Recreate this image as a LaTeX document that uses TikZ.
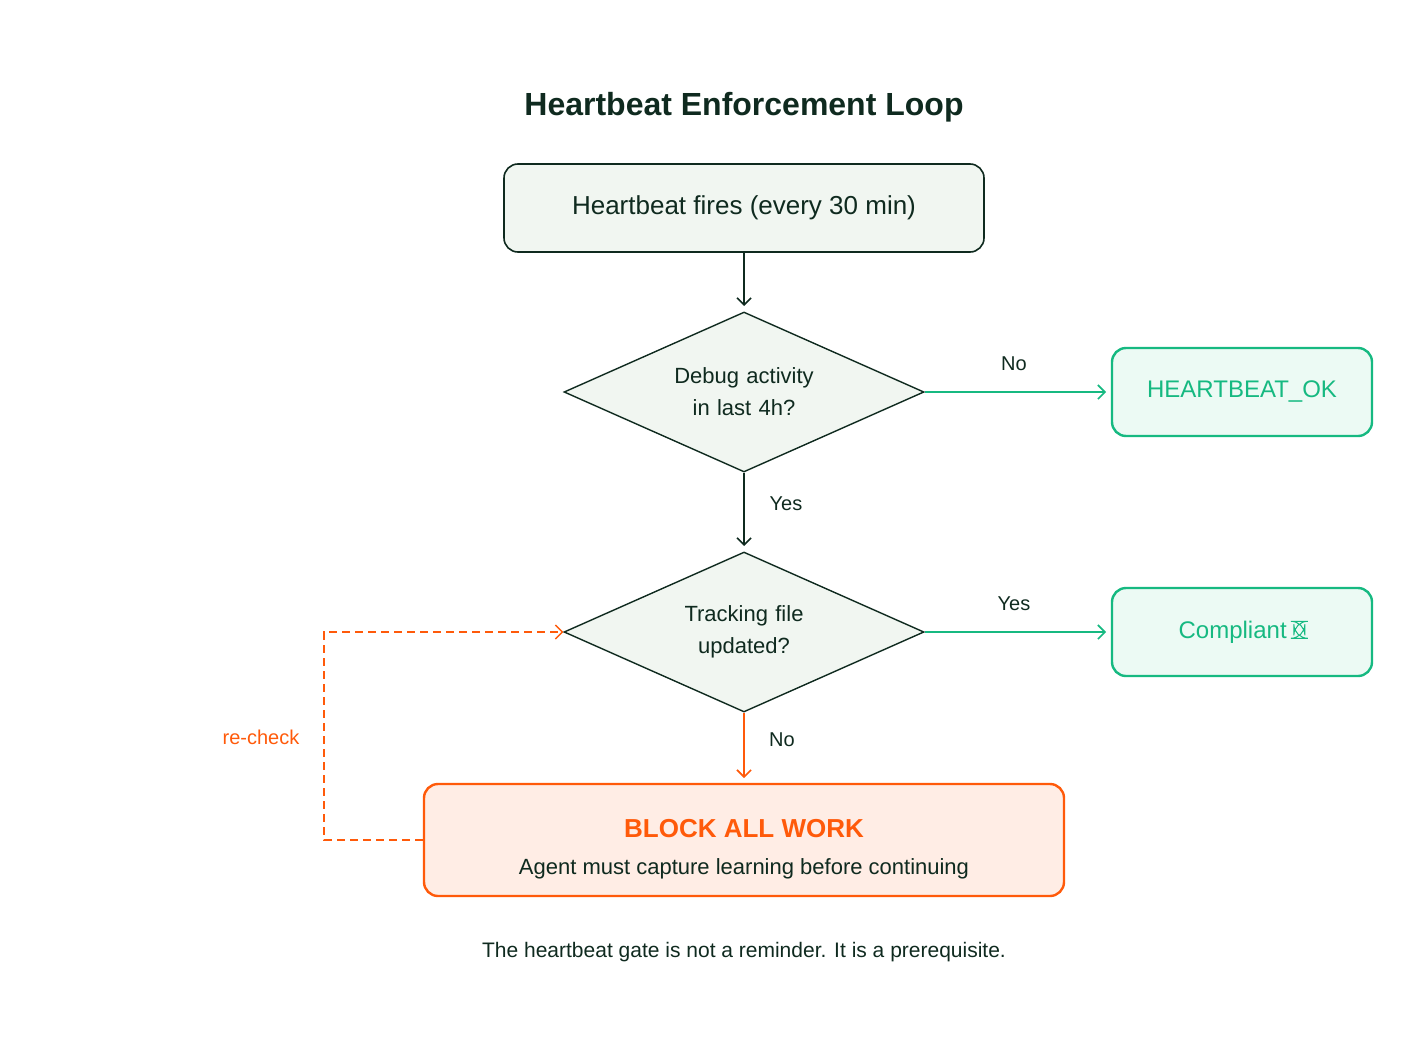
\documentclass[tikz,border=0pt]{standalone}
\usepackage{fontspec}
\setmainfont{Liberation Sans}
\usetikzlibrary{shapes.geometric,arrows.meta}
\definecolor{dk}{HTML}{0F2A1F}
\definecolor{gr}{HTML}{16B981}
\definecolor{grf}{HTML}{ECFAF4}
\definecolor{pale}{HTML}{F1F6F1}
\definecolor{org}{HTML}{FF5A0A}
\definecolor{orgf}{HTML}{FFEDE5}
\begin{document}
\begin{tikzpicture}[x=1pt,y=-1pt,
  box/.style={draw=dk,fill=pale,line width=1.6pt,rounded corners=14pt,inner sep=0pt,text=dk},
  dia/.style={diamond,draw=dk,fill=pale,line width=1.4pt,inner sep=0pt,minimum width=360pt,minimum height=160pt,aspect=2.25,text=dk,font=\fontsize{22}{32}\selectfont,align=center,text width=200pt},
  gbox/.style={draw=gr,fill=grf,line width=2.4pt,rounded corners=14pt,minimum width=260pt,minimum height=88pt,inner sep=0pt,text=gr,font=\fontsize{24}{28}\selectfont},
  arr/.style={line width=2pt,-{Straight Barb[length=7pt,width=14pt,line width=1.6pt]}},
  lbl/.style={font=\fontsize{20}{24}\selectfont,text=dk}]
\useasboundingbox (0,0) rectangle (1424,1052);
\node[font=\bfseries\fontsize{32}{38}\selectfont,text=dk] (title) at (744,107) {Heartbeat Enforcement Loop};
\node[box,minimum width=480pt,minimum height=88pt,font=\fontsize{26}{30}\selectfont] (hb) at (744,208) {Heartbeat fires (every 30 min)};
\node[dia] (d1) at (744,392) {Debug activity\\in last 4h?};
\node[dia] (d2) at (744,632) {Tracking file\\updated?};
\node[gbox] (ok) at (1242,392) {HEARTBEAT\_OK};
\node[gbox] (cp) at (1242,632) {Compliant \tikz[baseline=0pt]\draw[gr,line width=1pt] (0,0) rectangle (11pt,17pt);};
\node[draw=org,fill=orgf,line width=2.4pt,rounded corners=14pt,minimum width=640pt,minimum height=112pt,inner sep=0pt] (blk) at (744,840) {};
\node[font=\bfseries\fontsize{26}{30}\selectfont,text=org] (bt) at (744,829) {BLOCK ALL WORK};
\node[font=\fontsize{22}{26}\selectfont,text=dk] (bs) at (744,869) {Agent must capture learning before continuing};
\coordinate (c1) at (744,306);
\coordinate (c2) at (744,546);
\coordinate (c3) at (1106,392);
\coordinate (c4) at (1106,632);
\coordinate (c5) at (744,778);
\draw[arr,dk] (hb.south) -- (c1);
\draw[arr,dk] (d1.south) -- (c2);
\draw[arr,gr] (d1.east) -- (c3);
\draw[arr,gr] (d2.east) -- (c4);
\draw[arr,org] (d2.south) -- (c5);
\coordinate (l1) at (324,840);
\coordinate (l2) at (324,632);
\draw[org,line width=2pt,dash pattern=on 8pt off 5pt,-{Straight Barb[length=7pt,width=14pt,line width=1.4pt]}] (blk.west) -- (l1) -- (l2) -- (d2.west);
\node[lbl] (n1) at (1014,364) {No};
\node[lbl] (y1) at (786,504) {Yes};
\node[lbl] (y2) at (1014,604) {Yes};
\node[lbl] (n2) at (782,740) {No};
\node[lbl,text=org] (rc) at (261,737) {re-check};
\node[font=\fontsize{21}{25}\selectfont,text=dk] (cap) at (744,952) {The heartbeat gate is not a reminder. It is a prerequisite.};
\end{tikzpicture}
\end{document}
